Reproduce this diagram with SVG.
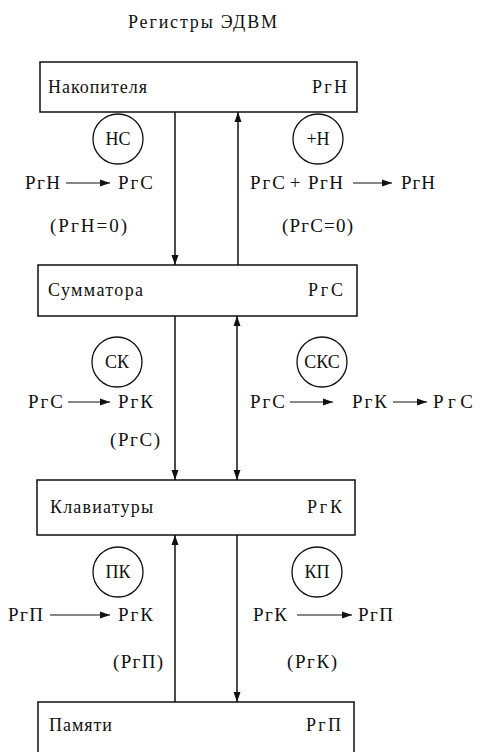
<svg xmlns="http://www.w3.org/2000/svg" width="483" height="752" viewBox="0 0 483 752">
<style>
text{font-family:"Liberation Serif","Times New Roman",serif;fill:#111;}
.t{font-size:19px;}
.b{font-size:18px;}
.c{font-size:18px;text-anchor:middle;}
.box{fill:none;stroke:#111;stroke-width:1.5;}
.circ{fill:none;stroke:#111;stroke-width:1.3;}
.ln{fill:none;stroke:#111;stroke-width:1.5;}
.ar{fill:none;stroke:#111;stroke-width:1.2;marker-end:url(#ah);}
</style>
<defs>
<marker id="ah" markerUnits="userSpaceOnUse" markerWidth="10" markerHeight="8" refX="10" refY="4" orient="auto-start-reverse">
<path d="M0,0.5 L10,4 L0,7.5 z" fill="#111"/>
</marker>
</defs>
<text x="128" y="28" class="b" textLength="149" lengthAdjust="spacing">Регистры  ЭДВМ</text>

<g id="node-nakopitelya">
<rect class="box" x="40" y="62" width="317" height="50"/>
<text x="48" y="93" class="b" textLength="99" lengthAdjust="spacing">Накопителя</text>
<text x="312" y="93" class="b" textLength="35" lengthAdjust="spacing">РгН</text>
</g>
<g id="node-summatora">
<rect class="box" x="38" y="265" width="319" height="51"/>
<text x="48" y="296" class="b" textLength="95" lengthAdjust="spacing">Сумматора</text>
<text x="308" y="296" class="b" textLength="35" lengthAdjust="spacing">РгС</text>
</g>
<g id="node-klaviatury">
<rect class="box" x="37" y="480" width="318" height="55"/>
<text x="50" y="513" class="b" textLength="103" lengthAdjust="spacing">Клавиатуры</text>
<text x="307" y="513" class="b" textLength="35" lengthAdjust="spacing">РгК</text>
</g>
<g id="node-pamyati">
<path class="box" d="M38,753 V702 H354 V753"/>
<text x="49" y="731" class="b" textLength="63" lengthAdjust="spacing">Памяти</text>
<text x="306" y="731" class="b" textLength="35" lengthAdjust="spacing">РгП</text>
</g>

<g id="op-HC">
<circle class="circ" cx="118" cy="139" r="25"/>
<text x="118" y="145" class="c">НС</text>
<text x="25" y="189" class="t" textLength="35" lengthAdjust="spacing">РгН</text>
<line class="ar" x1="66" y1="183" x2="110" y2="183"/>
<text x="118" y="189" class="t" textLength="35" lengthAdjust="spacing">РгС</text>
<text x="50" y="232" class="t" textLength="77" lengthAdjust="spacing">(РгН=0)</text>
</g>
<g id="op-plusH">
<circle class="circ" cx="318" cy="139" r="25"/>
<text x="318" y="145" class="c">+Н</text>
<text x="250" y="189" class="t" textLength="35" lengthAdjust="spacing">РгС</text>
<text x="295" y="189" class="c" style="font-size:19px">+</text>
<text x="308" y="189" class="t" textLength="35" lengthAdjust="spacing">РгН</text>
<line class="ar" x1="353" y1="183" x2="392" y2="183"/>
<text x="401" y="189" class="t" textLength="34" lengthAdjust="spacing">РгН</text>
<text x="282" y="232" class="t" textLength="71" lengthAdjust="spacing">(РгС=0)</text>
</g>
<g id="op-CK">
<circle class="circ" cx="117" cy="362" r="25"/>
<text x="117" y="368" class="c">СК</text>
<text x="28" y="408" class="t" textLength="35" lengthAdjust="spacing">РгС</text>
<line class="ar" x1="68" y1="402" x2="110" y2="402"/>
<text x="118" y="408" class="t" textLength="35" lengthAdjust="spacing">РгК</text>
<text x="110" y="446" class="t" textLength="50" lengthAdjust="spacing">(РгС)</text>
</g>
<g id="op-CKC">
<circle class="circ" cx="322" cy="362" r="25"/>
<text x="322" y="368" class="c">СКС</text>
<text x="250" y="408" class="t" textLength="35" lengthAdjust="spacing">РгС</text>
<line class="ar" x1="290" y1="402" x2="333" y2="402"/>
<text x="352" y="408" class="t" textLength="35" lengthAdjust="spacing">РгК</text>
<line class="ar" x1="393" y1="402" x2="427" y2="402"/>
<text x="433" y="408" class="t" textLength="40" lengthAdjust="spacing">РгС</text>
</g>
<g id="op-PK">
<circle class="circ" cx="118" cy="572" r="25"/>
<text x="118" y="578" class="c">ПК</text>
<text x="8" y="621" class="t" textLength="35" lengthAdjust="spacing">РгП</text>
<line class="ar" x1="50" y1="615" x2="110" y2="615"/>
<text x="118" y="621" class="t" textLength="35" lengthAdjust="spacing">РгК</text>
<text x="113" y="668" class="t" textLength="50" lengthAdjust="spacing">(РгП)</text>
</g>
<g id="op-KP">
<circle class="circ" cx="317" cy="572" r="25"/>
<text x="317" y="578" class="c">КП</text>
<text x="253" y="621" class="t" textLength="34" lengthAdjust="spacing">РгК</text>
<line class="ar" x1="297" y1="615" x2="352" y2="615"/>
<text x="358" y="621" class="t" textLength="35" lengthAdjust="spacing">РгП</text>
<text x="287" y="668" class="t" textLength="50" lengthAdjust="spacing">(РгК)</text>
</g>

<g id="connectors">
<line class="ln" x1="175" y1="112" x2="175" y2="265" marker-end="url(#ah)"/>
<line class="ln" x1="238" y1="265" x2="238" y2="112" marker-end="url(#ah)"/>
<line class="ln" x1="175" y1="316" x2="175" y2="480" marker-end="url(#ah)"/>
<line class="ln" x1="237" y1="316" x2="237" y2="480" marker-start="url(#ah)" marker-end="url(#ah)"/>
<line class="ln" x1="175" y1="702" x2="175" y2="535" marker-end="url(#ah)"/>
<line class="ln" x1="237" y1="535" x2="237" y2="702" marker-end="url(#ah)"/>
</g>
</svg>
